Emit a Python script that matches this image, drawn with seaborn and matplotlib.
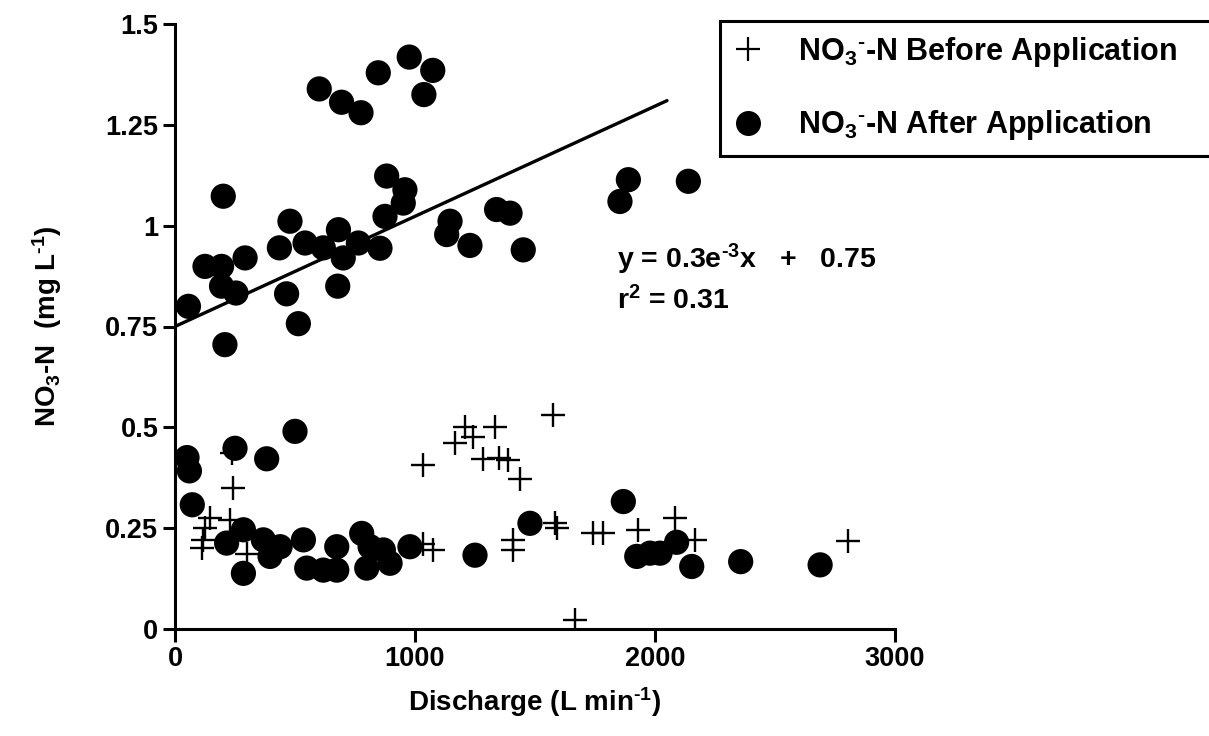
import matplotlib
matplotlib.use("Agg")
import matplotlib.pyplot as plt
import seaborn as sns
from matplotlib.lines import Line2D

# ---- data ----
after_x = [56, 201, 125, 194, 292, 194, 254, 208, 479, 435, 465, 514, 542, 618, 681,
           701, 678, 764, 854, 882, 958, 951, 875, 1146, 1132, 1229, 1340, 1396, 1451,
           1889, 1854, 2139,
           601, 694, 775, 847, 976, 1074, 1037,
           50, 60, 250, 382, 500, 72, 285, 215, 285, 368, 396, 438, 535, 549, 618, 674,
           674, 778, 799, 813, 868, 896, 979, 1250, 1479, 1868, 1924, 1979, 2021, 2090,
           2153, 2357, 2688]
after_y = [0.80, 1.073, 0.899, 0.899, 0.92, 0.85, 0.833, 0.705, 1.011, 0.945, 0.831,
           0.757, 0.957, 0.945, 0.99, 0.92, 0.85, 0.957, 0.944, 1.123, 1.089, 1.056,
           1.023, 1.011, 0.978, 0.951, 1.04, 1.031, 0.94, 1.114, 1.06, 1.11,
           1.339, 1.306, 1.28, 1.379, 1.418, 1.385, 1.325,
           0.425, 0.392, 0.448, 0.422, 0.49, 0.308, 0.246, 0.213, 0.138, 0.221, 0.18,
           0.204, 0.221, 0.151, 0.146, 0.204, 0.146, 0.237, 0.151, 0.204, 0.196, 0.163,
           0.204, 0.183, 0.262, 0.316, 0.18, 0.188, 0.188, 0.215, 0.155, 0.167, 0.159]

before_x = [243, 238, 146, 125, 118, 111, 229, 299, 1035, 1167, 1208, 1243, 1333, 1285,
            1350, 1389, 1438, 1576, 1035, 1076, 1410, 1410, 1585, 1590, 1743, 1785,
            1931, 2083, 2167, 2806, 1667]
before_y = [0.349, 0.437, 0.275, 0.25, 0.221, 0.202, 0.27, 0.186, 0.407, 0.461, 0.5,
            0.475, 0.5, 0.421, 0.424, 0.419, 0.373, 0.531, 0.21, 0.196, 0.221, 0.196,
            0.262, 0.25, 0.237, 0.237, 0.246, 0.275, 0.221, 0.218, 0.022]

fit_x = [0, 2050]
fit_y = [0.75, 1.31]

x_ticks = [0, 1000, 2000, 3000]
y_ticks = [0, 0.25, 0.5, 0.75, 1, 1.25, 1.5]
y_tick_labels = ["0", "0.25", "0.5", "0.75", "1", "1.25", "1.5"]

label_before = r"NO$_3$$^{\mathbf{\text{-}}}$-N Before Application"
label_after = r"NO$_3$$^{\mathbf{\text{-}}}$-N After Application"
eq_text = "y = 0.3e$^{\\text{-}3}$x   +   0.75\nr$^2$ = 0.31"

# ---- style ----
sns.set_theme(style="ticks")
plt.rcParams["font.family"] = ["Liberation Sans", "DejaVu Sans"]
plt.rcParams["font.weight"] = "bold"
plt.rcParams["text.color"] = "black"
plt.rcParams["axes.labelcolor"] = "black"
plt.rcParams["xtick.color"] = "black"
plt.rcParams["ytick.color"] = "black"
plt.rcParams["mathtext.fontset"] = "custom"
plt.rcParams["mathtext.bf"] = "Liberation Sans:bold"
plt.rcParams["mathtext.rm"] = "Liberation Sans:bold"
plt.rcParams["mathtext.default"] = "bf"

fig = plt.figure(figsize=(12.09, 7.36), dpi=100)
ax = fig.add_axes([175 / 1209, 1 - 629 / 736, 720 / 1209, 605 / 736])

sns.scatterplot(x=after_x, y=after_y, ax=ax, marker="o", s=330, color="black",
                edgecolor="none", zorder=3)
sns.scatterplot(x=before_x, y=before_y, ax=ax, marker="+", s=300, color="black",
                linewidth=1.7, zorder=4)
sns.lineplot(x=fit_x, y=fit_y, ax=ax, color="black", linewidth=2.4, zorder=2)

ax.set_xlim(0, 3000)
ax.set_ylim(0, 1.5)
ax.set_xticks(x_ticks)
ax.set_xticklabels([str(v) for v in x_ticks])
ax.set_yticks(y_ticks)
ax.set_yticklabels(y_tick_labels)
for s in ["top", "right"]:
    ax.spines[s].set_visible(False)
for s in ["left", "bottom"]:
    ax.spines[s].set_linewidth(2.2)
    ax.spines[s].set_color("black")
ax.tick_params(axis="both", length=9, width=2.2, color="black", pad=3,
               labelsize=19.5, labelcolor="black")
for lab in ax.get_xticklabels() + ax.get_yticklabels():
    lab.set_fontweight("bold")

ax.set_xlabel(r"Discharge (L min$^{\text{-}1}$)", fontsize=20, fontweight="bold",
              labelpad=10)
ax.set_ylabel(r"NO$_3$-N  (mg L$^{\text{-}1}$)", fontsize=20, fontweight="bold",
              labelpad=30)

ax.text(1842, 0.868, eq_text, fontsize=20.5, fontweight="bold", va="center",
        ha="left", linespacing=1.4)

handles = [
    Line2D([], [], marker="+", ls="none", color="black", markersize=17, mew=1.6),
    Line2D([], [], marker="o", ls="none", color="black", markersize=18, mec="none"),
]
top = 1 - 21 / 736
leg = fig.legend(handles, [label_before, label_after], loc="upper left",
                 bbox_to_anchor=(720 / 1209, top - 0.3, 0.45, 0.3), mode="expand",
                 frameon=True, fancybox=False, framealpha=1, edgecolor="black",
                 fontsize=22, labelspacing=1.3, handletextpad=1.15, borderpad=0.45,
                 handlelength=0.95, borderaxespad=0)
leg.get_frame().set_linewidth(2.2)
for t in leg.get_texts():
    t.set_fontweight("bold")

fig.savefig("out.png", dpi=100)
